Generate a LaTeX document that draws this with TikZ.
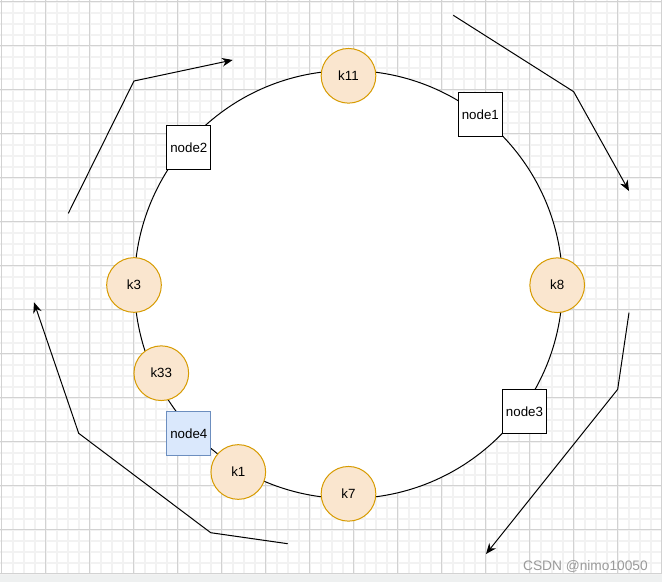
\documentclass[tikz,border=0pt]{standalone}
\usepackage{fontspec}
\setmainfont{Liberation Sans}
\usepackage{xcolor}
\usepackage{tikz}
\usetikzlibrary{arrows.meta, positioning}

\definecolor{keyfill}{HTML}{FAE6CF}
\definecolor{keydraw}{HTML}{D79B00}
\definecolor{hostfill}{HTML}{DAE8FC}
\definecolor{hostdraw}{HTML}{6C8EBF}
\definecolor{gridmajor}{HTML}{D2D2D2}
\definecolor{gridminor}{HTML}{F2F2F2}
\definecolor{canvasedge}{HTML}{EEF0F0}
\definecolor{markgray}{HTML}{9A9A9A}

\tikzset{
    keynode/.style={circle, draw=keydraw, fill=keyfill, line width=0.75pt, minimum size=41pt, inner sep=0pt, font=\fontsize{10}{12}\selectfont},
    hostnode/.style={rectangle, draw=black, fill=white, line width=0.75pt, minimum size=33pt, inner sep=0pt, font=\fontsize{10}{12}\selectfont},
    ring/.style={draw=black, fill=white, line width=0.75pt},
    flow/.style={-{Stealth[length=8pt, width=6.5pt]}, line width=0.75pt},
    watermark/.style={text=markgray, font=\fontsize{10.3}{12}\selectfont, inner sep=0pt}
}

\begin{document}
\begin{tikzpicture}[x=0.75pt, y=-0.75pt]
\useasboundingbox (0,0) rectangle (662,582);

% Canvas and grid
\fill[white] (0,0) rectangle (662,574);
\fill[canvasedge] (0,574) rectangle (662,582);
\foreach \i in {0,...,60} {
    \draw[gridminor, line width=1.2pt] (1.7+\i*11, 0) -- (1.7+\i*11, 574);
}
\foreach \j in {0,...,52} {
    \draw[gridminor, line width=1.2pt] (0, 1.7+\j*11) -- (662, 1.7+\j*11);
}
\foreach \i in {0,...,15} {
    \draw[gridmajor, line width=0.75pt] (1.7+\i*44, 0) -- (1.7+\i*44, 574);
}
\foreach \j in {0,...,13} {
    \draw[gridmajor, line width=0.75pt] (0, 1.7+\j*44) -- (662, 1.7+\j*44);
}

% Hash ring
\draw[ring] (348.5,284.5) circle [radius=160.5pt];

% Keys on the ring
\node[keynode] (k11) at (348.5,75.8) {k11};
\node[keynode] (k8) at (557.2,285.2) {k8};
\node[keynode] (k7) at (348.5,493.8) {k7};
\node[keynode] (k1) at (238.3,472.0) {k1};
\node[keynode] (k33) at (161.3,373.2) {k33};
\node[keynode] (k3) at (134.0,285.0) {k3};

% Server nodes on the ring
\node[hostnode] (node1) at (480.3,114.3) {node1};
\node[hostnode] (node2) at (188.8,147.7) {node2};
\node[hostnode] (node3) at (524.5,411.5) {node3};
\node[hostnode, fill=hostfill, draw=hostdraw] (node4) at (188.8,433.7) {node4};

% Clockwise arrows round the ring
\coordinate (nw0) at (68.3,213.3);
\coordinate (nw1) at (134.0,81.0);
\coordinate (nw2) at (232.7,60.0);
\coordinate (ne0) at (453.3,15.3);
\coordinate (ne1) at (573.7,91.7);
\coordinate (ne2) at (629.0,191.0);
\coordinate (se0) at (629.0,312.7);
\coordinate (se1) at (617.7,389.3);
\coordinate (se2) at (486.0,554.0);
\coordinate (sw0) at (287.7,543.7);
\coordinate (sw1) at (210.7,532.7);
\coordinate (sw2) at (78.7,433.3);
\coordinate (sw3) at (34.0,302.3);
\draw[flow] (nw0) -- (nw1) -- (nw2);
\draw[flow] (ne0) -- (ne1) -- (ne2);
\draw[flow] (se0) -- (se1) -- (se2);
\draw[flow] (sw0) -- (sw1) -- (sw2) -- (sw3);

% Watermark
\node[watermark, anchor=east] (mark) at (648,566) {CSDN @nimo10050};

\end{tikzpicture}
\end{document}
